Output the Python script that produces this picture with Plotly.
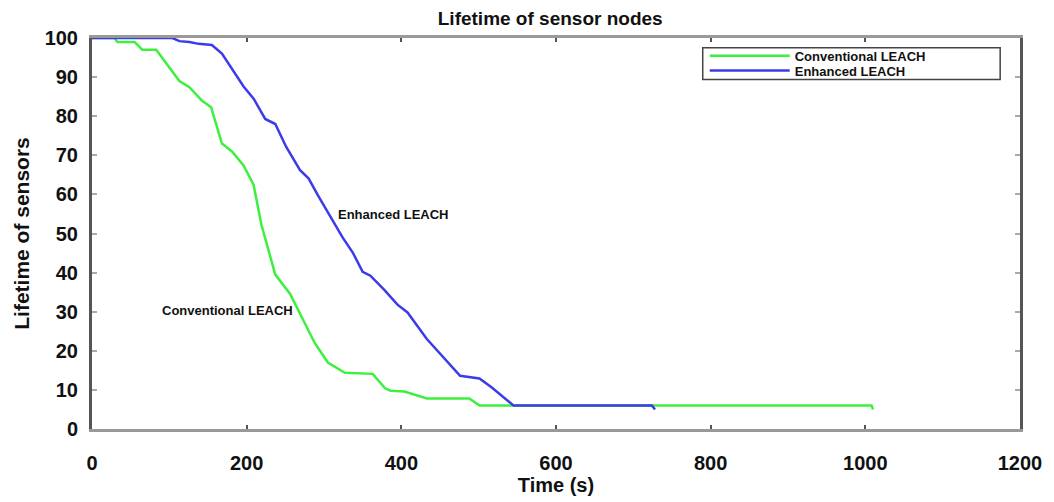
import plotly.graph_objects as go

# Conventional LEACH (green)
conv_t = [0, 29, 33, 55, 65, 83, 113, 126, 142, 154, 168, 181, 196, 209, 219, 237,
          256, 269, 288, 305, 327, 363, 379, 386, 404, 433, 488, 501, 1008, 1010]
conv_v = [100, 100, 99, 99, 97, 97, 89, 87.4, 84, 82.3, 73, 71, 67.4, 62.4, 52.3, 39.5,
          34.6, 29.5, 22, 17, 14.4, 14.1, 10.4, 9.8, 9.6, 7.8, 7.8, 6, 6, 5]

# Enhanced LEACH (blue)
enh_t = [0, 104, 113, 126, 138, 155, 168, 196, 209, 224, 237, 251, 269, 280, 292, 309,
         324, 337, 350, 360, 378, 395, 408, 433, 476, 501, 517, 545, 724, 728]
enh_v = [100, 100, 99.2, 99, 98.5, 98.2, 96, 87.6, 84.5, 79.3, 78, 72.2, 66.2, 64.1, 59.8, 54,
         49, 45.2, 40.2, 39.2, 35.6, 31.8, 29.8, 23, 13.6, 12.9, 10.6, 6, 6, 5]

x_ticks = [0, 200, 400, 600, 800, 1000, 1200]
y_ticks = [0, 10, 20, 30, 40, 50, 60, 70, 80, 90, 100]

GREEN = "#3ef03e"
BLUE = "#3b3bea"
FONT = "Liberation Sans, Arial, sans-serif"
INK = "#111111"

L, R, T, B = 92, 26, 38, 68
PW, PH = 1054 - L - R, 502 - T - B


def px_x(px):
    return (px - L) / PW


def px_y(py):
    return (502 - B - py) / PH


fig = go.Figure()
fig.add_trace(go.Scatter(x=conv_t, y=conv_v, mode="lines", name="Conventional LEACH",
                         line=dict(color=GREEN, width=2.5), legend="legend"))
fig.add_trace(go.Scatter(x=enh_t, y=enh_v, mode="lines", name="Enhanced LEACH",
                         line=dict(color=BLUE, width=2.5), legend="legend2"))

fig.add_annotation(x=390, y=54.8, text="Enhanced LEACH", showarrow=False,
                   font=dict(family=FONT, size=13, color=INK, weight="bold"))
fig.add_annotation(x=175, y=30.3, text="Conventional LEACH", showarrow=False,
                   font=dict(family=FONT, size=13, color=INK, weight="bold"))

# legend box
fig.add_shape(type="rect", xref="paper", yref="paper",
              x0=px_x(708), x1=px_x(1008), y0=px_y(80), y1=px_y(48),
              line=dict(color="#444", width=1.5), fillcolor="rgba(0,0,0,0)")

leg_common = dict(xanchor="left", yanchor="middle", bgcolor="rgba(0,0,0,0)", borderwidth=0,
                  font=dict(size=13, family=FONT, color=INK, weight="bold"), itemwidth=80)

fig.update_layout(
    width=1054, height=502,
    margin=dict(l=L, r=R, t=T, b=B),
    paper_bgcolor="white", plot_bgcolor="white",
    font=dict(family=FONT, color=INK),
    title=dict(text="Lifetime of sensor nodes", x=0.522, xref="container",
               xanchor="center", y=1 - 18 / 502, yref="container", yanchor="middle",
               font=dict(size=19, family=FONT, color=INK, weight="bold")),
    showlegend=True,
    legend=dict(x=px_x(710), y=px_y(56), **leg_common),
    legend2=dict(x=px_x(710), y=px_y(71), **leg_common),
    xaxis=dict(range=[0, 1200], tickvals=x_ticks,
               showgrid=False, zeroline=False, showline=True, linecolor="#999", linewidth=2.5,
               mirror="ticks", ticks="inside", ticklen=4, tickcolor="#555", tickwidth=2,
               ticklabelstandoff=14,
               tickfont=dict(size=20, family=FONT, color=INK, weight="bold"),
               title=dict(text="Time (s)", standoff=2,
                          font=dict(size=20, family=FONT, color=INK, weight="bold"))),
    yaxis=dict(range=[0, 100], tickvals=y_ticks,
               showgrid=False, zeroline=False, showline=True, linecolor="#555", linewidth=3,
               mirror="ticks", ticks="inside", ticklen=5, tickcolor="#aaa", tickwidth=2,
               ticklabelstandoff=7,
               tickfont=dict(size=20, family=FONT, color=INK, weight="bold"),
               title=dict(text="Lifetime of sensors", standoff=10,
                          font=dict(size=21, family=FONT, color=INK, weight="bold"))),
)

fig.write_html("out.html", config={"displayModeBar": False},
               post_script="document.body.style.margin='0';")
